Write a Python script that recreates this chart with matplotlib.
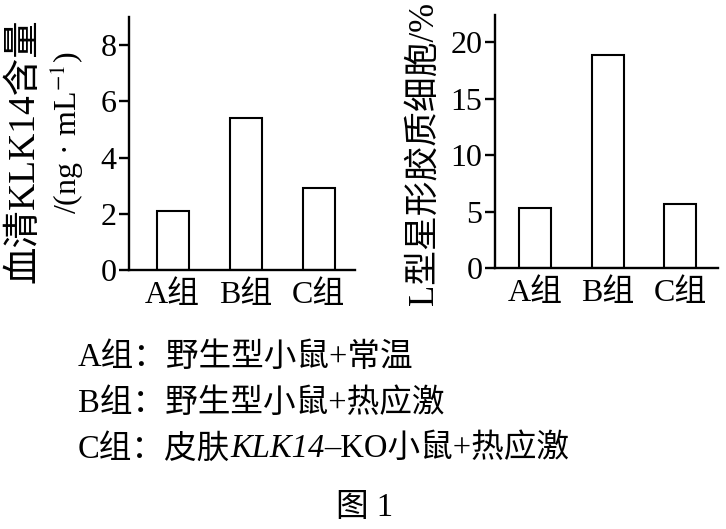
import matplotlib
matplotlib.use("Agg")
import matplotlib.pyplot as plt

plt.rcParams['font.family'] = ['Liberation Serif', 'Noto Sans CJK SC']
plt.rcParams['mathtext.fontset'] = 'stix'

# data
groups = ['A组', 'B组', 'C组']
klk14 = [2.1, 5.4, 2.9]          # ng/mL
astro = [5.3, 18.9, 5.7]         # %
klk14_ticks = [0, 2, 4, 6, 8]
astro_ticks = [0, 5, 10, 15, 20]
legend_lines = ['A组：野生型小鼠+常温', 'B组：野生型小鼠+热应激']
c_parts = ['C组：皮肤', 'KLK14', '–KO小鼠+热应激']
caption = '图 1'

FS = 23
W, H = 726, 529
fig = plt.figure(figsize=(7.26, 5.29), dpi=100)
fig.patch.set_facecolor('white')


def style_axes(ax, ticks, ylim, xlim):
    ax.set_ylim(*ylim)
    ax.set_xlim(*xlim)
    ax.set_yticks(ticks)
    ax.set_xticks(range(len(groups)))
    ax.set_xticklabels(groups)
    for s in ['top', 'right']:
        ax.spines[s].set_visible(False)
    for s in ['left', 'bottom']:
        ax.spines[s].set_linewidth(1.7)
    ax.tick_params(axis='y', direction='out', length=7, width=1.7, pad=2, labelsize=FS)
    ax.tick_params(axis='x', length=0, pad=8, labelsize=FS)


ax1 = fig.add_axes([0.1777, 0.4896, 0.3113, 0.4783])
ax1.bar(range(len(groups)), klk14, width=0.44, color='white', edgecolor='black', linewidth=1.5)
style_axes(ax1, klk14_ticks, (0, 9), (-0.6, 2.5))

ax2 = fig.add_axes([0.6818, 0.4934, 0.3072, 0.4783])
ax2.bar(range(len(groups)), astro, width=0.44, color='white', edgecolor='black', linewidth=1.5)
style_axes(ax2, astro_ticks, (0, 22.4), (-0.55, 2.52))

# y labels
fig.text(24 / W, 1 - 151 / H, '血清KLK14含量', rotation=90, ha='center', va='center', fontsize=27)
fig.text(67 / W, 1 - 133 / H, r'/(ng · mL$^{-1}$)', rotation=90, ha='center', va='center', fontsize=FS)
fig.text(425 / W, 1 - 153 / H, 'L型星形胶质细胞/%', rotation=90, ha='center', va='center', fontsize=25)

# group descriptions
BFS = 23.5
x0 = 78 / W
fig.text(x0, 1 - 358 / H, legend_lines[0], ha='left', va='center', fontsize=BFS)
fig.text(x0, 1 - 404 / H, legend_lines[1], ha='left', va='center', fontsize=BFS)
yc = 1 - 449 / H
t1 = fig.text(x0, yc, c_parts[0], ha='left', va='center', fontsize=BFS)
t2 = fig.text(0, 0, c_parts[1], fontsize=BFS, style='italic', family='Liberation Serif',
              ha='left', va='center')
t3 = fig.text(0, 0, c_parts[2], fontsize=BFS, ha='left', va='center')
fig.canvas.draw()
r = fig.canvas.get_renderer()
bb1 = t1.get_window_extent(r)
t2.set_position((bb1.x1 / W, yc))
fig.canvas.draw()
bb2 = t2.get_window_extent(r)
t3.set_position((bb2.x1 / W, yc))

fig.text(365 / W, 1 - 508 / H, caption, ha='center', va='center', fontsize=BFS)

fig.savefig('out.png', dpi=100, facecolor='white')
